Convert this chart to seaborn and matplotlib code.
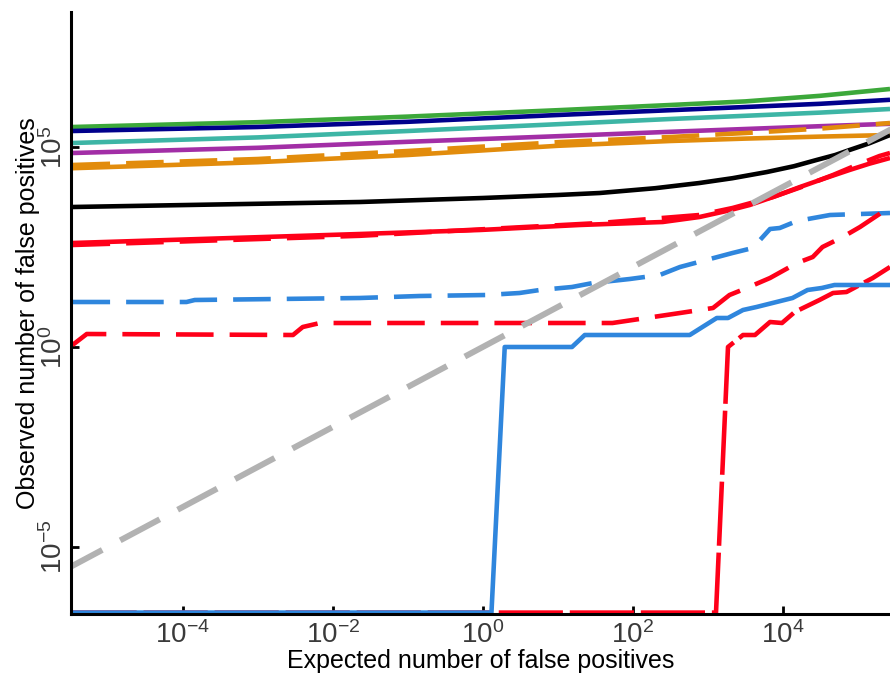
import numpy as np
import pandas as pd
import matplotlib
matplotlib.use("Agg")
import matplotlib.pyplot as plt
from matplotlib import font_manager
import seaborn as sns

# ---- data (log10 of values) ----
FLOOR = -6.64   # "zero" observed counts drawn at the bottom of the axis

green_x = [-5.47, -3, -1, 1, 2.5, 3.5, 4.5, 5.43]
green_y = [5.50, 5.62, 5.76, 5.92, 6.05, 6.14, 6.28, 6.45]

navy_x = [-5.47, -3, -1, 1, 2.5, 3.5, 4.5, 5.43]
navy_y = [5.40, 5.50, 5.63, 5.80, 5.92, 6.00, 6.08, 6.18]

teal_x = [-5.47, -3, -1, 1, 2.5, 3.5, 4.5, 5.43]
teal_y = [5.10, 5.24, 5.40, 5.57, 5.70, 5.78, 5.86, 5.95]

purple_x = [-5.47, -3, -1, 1, 2.5, 3.5, 4.5, 5.43]
purple_y = [4.85, 4.98, 5.13, 5.27, 5.38, 5.45, 5.52, 5.58]

orange_x = [-5.47, -3, -1, 1, 2.5, 3.5, 4.5, 5.43]
orange_y = [4.47, 4.62, 4.80, 5.03, 5.15, 5.21, 5.26, 5.30]

orange_d_x = [-5.47, -3, -1, 1, 2.5, 3.5, 4.5, 5.43]
orange_d_y = [4.55, 4.70, 4.90, 5.12, 5.25, 5.35, 5.46, 5.60]

black_x = [-5.47, -1.64, 0.0, 1.0, 1.56, 2.3, 2.89, 3.33, 3.79, 4.15, 4.45,
           4.7, 4.89, 5.15, 5.43]
black_y = [3.50, 3.625, 3.725, 3.80, 3.85, 3.97, 4.10, 4.22, 4.375, 4.52,
           4.675, 4.80, 4.925, 5.09, 5.30]

red_x = [-5.47, -1.64, -0.04, 1.29, 2.4, 2.89, 3.25, 3.56, 3.9, 4.23, 4.55,
         4.89, 5.15, 5.43]
red_y = [2.60, 2.825, 2.925, 3.05, 3.125, 3.25, 3.40, 3.55, 3.77, 4.0, 4.21,
         4.425, 4.58, 4.725]

red_d_x = [-5.47, -1.64, 1.56, 2.89, 3.33, 3.87, 4.25, 4.67, 5.0, 5.29, 5.43]
red_d_y = [2.55, 2.78, 3.10, 3.30, 3.475, 3.75, 4.00, 4.30, 4.56, 4.775, 4.85]

blue_d_x = [-5.47, -3.95, -3.84, -1.64, -0.84, 0.05, 0.49, 0.76, 1.19, 1.47,
            1.96, 2.36, 2.63, 3.33, 3.6, 3.83, 3.96, 4.19, 4.63, 5.43]
blue_d_y = [1.125, 1.125, 1.175, 1.225, 1.275, 1.30, 1.35, 1.425, 1.50, 1.60,
            1.70, 1.80, 2.00, 2.35, 2.475, 2.95, 2.975, 3.15, 3.30, 3.35]

red_low_x = [-5.47, -5.28, -2.53, -2.4, -2.17, 1.73, 2.63, 3.07, 3.29, 3.52,
             3.83, 4.19, 4.4, 4.53, 4.8, 5.03, 5.43]
red_low_y = [0.05, 0.325, 0.30, 0.50, 0.60, 0.60, 0.85, 0.975, 1.30, 1.475,
             1.725, 2.10, 2.25, 2.50, 2.75, 3.0, 3.5]

red_dd_x = [-5.47, 3.11, 3.27, 3.47, 3.63, 3.83, 3.99, 4.16, 4.49, 4.67,
            4.85, 5.2, 5.43]
red_dd_y = [FLOOR, FLOOR, 0.0, 0.30, 0.30, 0.625, 0.60, 0.875, 1.175, 1.35,
            1.375, 1.725, 2.0]

blue_x = [-5.47, 0.116, 0.293, 1.19, 1.36, 2.76, 3.12, 3.27, 3.47, 3.65,
          4.13, 4.33, 4.52, 4.69, 5.43]
blue_y = [FLOOR, FLOOR, 0.0, 0.0, 0.30, 0.30, 0.725, 0.725, 0.925, 1.0,
          1.225, 1.425, 1.475, 1.55, 1.55]

ident_x = [-5.6, 5.6]
ident_y = [-5.6, 5.6]

x_ticks = [-4, -2, 0, 2, 4]
y_ticks = [-5, 0, 5]

# ---- style ----
sns.set_style("ticks")


def have(name):
    try:
        font_manager.findfont(name, fallback_to_default=False)
        return True
    except Exception:
        return False


tick_font = "Liberation Sans Narrow" if have("Liberation Sans Narrow") else "Liberation Sans"
plt.rcParams["font.family"] = [tick_font, "Liberation Sans", "DejaVu Sans"]
plt.rcParams["mathtext.fontset"] = "custom"
plt.rcParams["mathtext.rm"] = tick_font
plt.rcParams["mathtext.it"] = tick_font
plt.rcParams["mathtext.bf"] = tick_font
plt.rcParams["mathtext.sf"] = tick_font

fig = plt.figure(figsize=(8.9, 6.77), dpi=100)
ax = fig.add_axes([71 / 890, 1 - 614 / 677, 1 - 71 / 890, (614 - 12) / 677])

LW = 3.3
DASH = (8.2, 3.5)
DASHDOT = (14, 1.5)


def draw(xs, ys, color, dashes=None, lw=LW, z=2):
    df = pd.DataFrame({"x": 10.0 ** np.asarray(xs), "y": 10.0 ** np.asarray(ys)})
    sns.lineplot(data=df, x="x", y="y", ax=ax, color=color, lw=lw, sort=False,
                 estimator=None, zorder=z, solid_capstyle="butt",
                 dash_capstyle="butt")
    line = ax.get_lines()[-1]
    if dashes is not None:
        line.set_dashes(dashes)
    return line


ax.set_xscale("log")
ax.set_yscale("log")

draw(green_x, green_y, "#3ca83a")
draw(navy_x, navy_y, "#00008c")
draw(teal_x, teal_y, "#3db5a5")
draw(purple_x, purple_y, "#a22ea6")
draw(orange_x, orange_y, "#e28c0c")
draw(orange_d_x, orange_d_y, "#e28c0c", DASH)
draw(black_x, black_y, "#000000")
draw(red_x, red_y, "#ff0019")
draw(red_d_x, red_d_y, "#ff0019", DASH)
draw(red_dd_x, red_dd_y, "#ff0019", DASHDOT)
draw(blue_x, blue_y, "#2f86dd")
draw(blue_d_x, blue_d_y, "#2f86dd", DASH)
draw(red_low_x, red_low_y, "#ff0019", DASH)
draw(ident_x, ident_y, "#b2b2b2", (7.5, 3.4), lw=4.3, z=3)

ax.set_xlim(10 ** -5.49, 10 ** 5.43)
ax.set_ylim(10 ** -6.675, 10 ** 8.375)

ax.set_xticks([10.0 ** t for t in x_ticks])
ax.set_xticklabels([f"$10^{{{t}}}$" for t in x_ticks])
ax.set_yticks([10.0 ** t for t in y_ticks])
ax.set_yticklabels([f"$10^{{{t}}}$" for t in y_ticks], rotation=90, va="center")
ax.minorticks_off()

ax.tick_params(direction="in", length=6, width=2, color="black",
               labelsize=20, labelcolor="#3a3a3a")
ax.tick_params(axis="y", pad=2)
ax.tick_params(axis="x", pad=5)
for s in ["top", "right"]:
    ax.spines[s].set_visible(False)
for s in ["left", "bottom"]:
    ax.spines[s].set_linewidth(2.2)
    ax.spines[s].set_color("black")
    ax.spines[s].set_zorder(5)

ax.set_xlabel("Expected number of false positives", fontsize=18, color="black",
              family=["Liberation Sans", "DejaVu Sans"], labelpad=0)
ax.set_ylabel("Observed number of false positives", fontsize=18, color="black",
              family=["Liberation Sans", "DejaVu Sans"], labelpad=0)

fig.savefig("out.png", dpi=100)
